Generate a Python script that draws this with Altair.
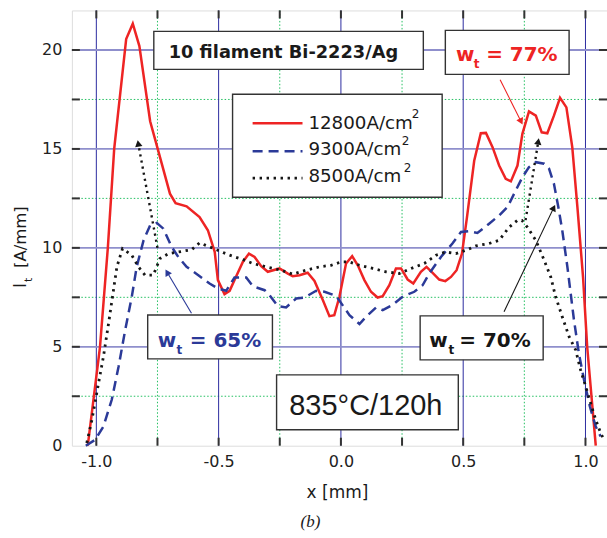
import math
import altair as alt
import pandas as pd

# ---------------- data ----------------
x_12800 = [-1.035, -0.985, -0.953, -0.927, -0.878, -0.851, -0.824, -0.78, -0.749, -0.699,
           -0.676, -0.631, -0.578, -0.544, -0.516, -0.503, -0.476, -0.455, -0.428, -0.401,
           -0.376, -0.353, -0.326, -0.299, -0.251, -0.217, -0.197, -0.169, -0.136, -0.108,
           -0.074, -0.047, -0.027, -0.006, 0.021, 0.046, 0.069, 0.096, 0.123, 0.150,
           0.171, 0.198, 0.225, 0.246, 0.273, 0.296, 0.327, 0.350, 0.375, 0.402,
           0.427, 0.450, 0.473, 0.495, 0.515, 0.545, 0.572, 0.593, 0.620, 0.647,
           0.674, 0.695, 0.722, 0.742, 0.769, 0.797, 0.821, 0.844, 0.871, 0.896,
           0.922, 0.946, 0.967, 0.990, 1.007, 1.042]
y_12800 = [0.0, 5.0, 10.0, 15.0, 20.55, 21.33, 20.2, 16.4, 15.0, 12.74,
           12.26, 12.1, 11.56, 10.89, 9.8, 8.37, 7.66, 7.83, 8.57, 9.29,
           9.71, 9.54, 9.07, 8.79, 8.96, 8.70, 8.57, 8.62, 8.74, 8.33,
           7.36, 6.55, 6.60, 7.53, 9.21, 9.58, 9.12, 8.37, 7.78, 7.49,
           7.56, 8.11, 8.96, 8.96, 8.40, 8.20, 8.79, 9.04, 8.74, 8.40,
           8.32, 8.53, 8.87, 9.71, 11.5, 14.4, 15.79, 15.81, 15.09, 14.16,
           13.49, 13.36, 14.16, 15.76, 16.9, 16.68, 15.84, 15.79, 16.68, 17.58,
           17.10, 15.09, 12.06, 8.53, 5.0, 0.0]

x_9300 = [-1.043, -1.005, -0.971, -0.937, -0.909, -0.882, -0.855, -0.835, -0.807, -0.780,
          -0.753, -0.726, -0.692, -0.665, -0.631, -0.583, -0.537, -0.503, -0.469, -0.435,
          -0.387, -0.36, -0.312, -0.292, -0.258, -0.224, -0.183, -0.149, -0.101, -0.067,
          -0.02, 0.035, 0.076, 0.103, 0.144, 0.171, 0.211, 0.252, 0.3, 0.334,
          0.361, 0.409, 0.456, 0.491, 0.524, 0.558, 0.606, 0.647, 0.681, 0.715,
          0.742, 0.769, 0.797, 0.831, 0.851, 0.871, 0.889, 0.905, 0.926, 0.953,
          0.973, 0.994, 1.018, 1.042, 1.062]
y_9300 = [0.0, 0.3, 0.97, 2.32, 4.0, 5.85, 7.53, 9.04, 10.38, 11.14,
          11.26, 10.97, 10.05, 9.54, 9.04, 8.62, 8.20, 7.95, 7.83, 8.50,
          8.5, 8.06, 7.86, 7.61, 7.06, 6.99, 7.44, 7.49, 7.83, 7.78,
          7.58, 6.6, 6.15, 6.52, 6.99, 6.85, 7.11, 7.53, 7.78, 8.11,
          8.70, 9.54, 10.22, 10.80, 10.84, 10.75, 11.22, 11.64, 12.06, 12.90,
          13.57, 14.08, 14.33, 14.25, 14.00, 13.24, 12.06, 10.89, 9.04, 6.35,
          4.67, 3.33, 1.98, 0.97, 0.47]

x_8500 = [-1.039, -1.018, -0.991, -0.971, -0.950, -0.930, -0.916, -0.893, -0.855, -0.828,
          -0.801, -0.767, -0.74, -0.705, -0.665, -0.610, -0.578, -0.537, -0.496, -0.455,
          -0.401, -0.36, -0.305, -0.244, -0.197, -0.142, -0.088, -0.04, 0.001, 0.035,
          0.076, 0.13, 0.184, 0.239, 0.287, 0.341, 0.389, 0.429, 0.470, 0.511,
          0.552, 0.606, 0.647, 0.688, 0.722, 0.740, 0.762, 0.797, 0.831, 0.858,
          0.878, 0.905, 0.933, 0.960, 0.980, 1.001, 1.021, 1.042, 1.062, 1.076]
y_8500 = [0.14, 1.31, 3.16, 4.5, 6.18, 7.86, 9.04, 9.96, 9.63, 9.04,
          8.62, 8.62, 9.46, 9.71, 9.79, 9.91, 10.25, 10.05, 9.84, 9.63,
          9.41, 9.21, 9.04, 8.87, 8.67, 8.87, 9.04, 9.12, 9.29, 9.29,
          9.12, 8.96, 8.79, 8.70, 8.96, 9.21, 9.63, 9.79, 9.71, 9.88,
          10.1, 10.22, 10.38, 11.05, 11.39, 11.39, 11.05, 10.38, 9.38, 8.53,
          7.53, 6.52, 5.51, 4.84, 3.83, 2.99, 2.15, 1.31, 0.64, 0.30]

series_labels = ["12800A/cm", "9300A/cm", "8500A/cm"]
x_tick_values = [-1.0, -0.5, 0.0, 0.5, 1.0]
y_tick_values = [0, 5, 10, 15, 20]
x_minor_values = [-0.75, -0.25, 0.25, 0.75]
y_minor_values = [2.5, 7.5, 12.5, 17.5]
x_all_ticks = [-1.0, -0.75, -0.5, -0.25, 0.0, 0.25, 0.5, 0.75, 1.0]
y_all_ticks = [2.5, 5, 7.5, 10, 12.5, 15, 17.5, 20]

title_text = "10 filament Bi-2223/Ag"
cond_text = "835°C/120h"
wt_values = ["= 77%", "= 65%", "= 70%"]

# ---------------- layout ----------------
XDOM = [-1.1, 1.088]
YDOM = [0, 22]
W, H = 536, 436
PX_X = W / (XDOM[1] - XDOM[0])
PX_Y = H / (YDOM[1] - YDOM[0])

FONT = "DejaVu Sans"
RED = "#ee2424"
BLUE = "#2b3a98"
BLACK = "#161616"

xs = alt.Scale(domain=XDOM, nice=False, zero=False)
ys = alt.Scale(domain=YDOM, nice=False, zero=False)
xaxis = alt.Axis(values=x_tick_values, title=None, ticks=False, domain=False, grid=False,
                 labelExpr="replace(format(datum.value, '.1f'), '\u2212', '-')",
                 labelFont=FONT, labelFontSize=16, labelColor="#222", labelPadding=8)
yaxis = alt.Axis(values=y_tick_values, title=None, ticks=False, domain=False, grid=False,
                 format="d", labelFont=FONT, labelFontSize=16, labelColor="#222",
                 labelPadding=10)


def X(f="x"):
    return alt.X(f"{f}:Q", scale=xs, axis=xaxis)


def Y(f="y"):
    return alt.Y(f"{f}:Q", scale=ys, axis=yaxis)


layers = []

# minor grid (green dotted)
layers.append(alt.Chart(pd.DataFrame({"x": x_minor_values})).mark_rule(
    color="#22c060", strokeWidth=1, strokeDash=[1.5, 2]).encode(x=X()))
layers.append(alt.Chart(pd.DataFrame({"y": y_minor_values})).mark_rule(
    color="#22c060", strokeWidth=1, strokeDash=[1.5, 2]).encode(y=Y()))
# major grid
layers.append(alt.Chart(pd.DataFrame({"x": x_tick_values})).mark_rule(
    color="#2c2ca0", strokeWidth=1).encode(x=X()))
layers.append(alt.Chart(pd.DataFrame({"y": y_tick_values[1:]})).mark_rule(
    color="#8f8fcc", strokeWidth=1.8).encode(y=Y()))

# ticks (inward) on all four sides
TK = 8
tick_style = dict(color="#333", strokeWidth=2)
dxt = pd.DataFrame({"x": x_all_ticks})
dyt = pd.DataFrame({"y": y_all_ticks})
layers.append(alt.Chart(dxt).mark_rule(**tick_style).encode(
    x=X(), y=alt.value(H), y2=alt.value(H - TK)))
layers.append(alt.Chart(dxt).mark_rule(**tick_style).encode(
    x=X(), y=alt.value(0), y2=alt.value(TK)))
layers.append(alt.Chart(dyt).mark_rule(**tick_style).encode(
    y=Y(), x=alt.value(0), x2=alt.value(TK)))
layers.append(alt.Chart(dyt).mark_rule(**tick_style).encode(
    y=Y(), x=alt.value(W), x2=alt.value(W - TK)))

# curves
styles = [
    dict(color=RED, strokeWidth=2.5),
    dict(color=BLUE, strokeWidth=2.5, strokeDash=[10, 6]),
    dict(color=BLACK, strokeWidth=2.8, strokeDash=[2.4, 4.6]),
]
series = [(x_12800, y_12800), (x_9300, y_9300), (x_8500, y_8500)]
for (xv, yv), st in zip(series, styles):
    df = pd.DataFrame({"x": xv, "y": yv, "i": range(len(xv))})
    layers.append(alt.Chart(df).mark_line(**st).encode(
        x=X(), y=Y(), order="i:Q"))

# arrows
arrows = [
    # x1, y1, x2, y2, color, dash, width
    (0.651, 18.5, 0.745, 16.18, RED, None, 1.1),
    (0.667, 6.77, 0.878, 12.23, BLACK, None, 1.1),
    (-0.611, 6.69, -0.72, 8.96, BLUE, None, 1.1),
    (-0.75, 10.0, -0.832, 15.5, BLACK, [2.2, 4], 2.4),
    (0.755, 11.4, 0.81, 15.6, BLACK, [2.2, 4], 2.4),
]
for (x1, y1, x2, y2, col, dash, sw) in arrows:
    kw = dict(color=col, strokeWidth=sw)
    if dash:
        kw["strokeDash"] = dash
    dxp = (x2 - x1) * PX_X
    dyp = -(y2 - y1) * PX_Y
    L = math.hypot(dxp, dyp)
    ang = math.degrees(math.atan2(dxp, -dyp)) % 360
    back = 4.5
    hx = x2 - (dxp / L) * back / PX_X
    hy = y2 + (dyp / L) * back / PX_Y
    ex = x2 - (dxp / L) * 6 / PX_X
    ey = y2 + (dyp / L) * 6 / PX_Y
    layers.append(alt.Chart(pd.DataFrame({"x": [x1], "y": [y1], "x2": [ex], "y2": [ey]}))
                  .mark_rule(**kw).encode(x=X(), y=Y(), x2="x2:Q", y2="y2:Q"))
    layers.append(alt.Chart(pd.DataFrame({"x": [hx], "y": [hy]}))
                  .mark_point(shape="triangle-up", filled=True, color=col, opacity=1,
                              size=55, angle=ang).encode(x=X(), y=Y()))

# boxes: x1, x2, y1, y2
boxes = [
    (-0.765, 0.337, 19.02, 20.94),
    (0.427, 0.933, 18.77, 20.99),
    (-0.443, 0.414, 12.56, 17.76),
    (-0.790, -0.280, 4.39, 6.61),
    (0.324, 0.827, 4.34, 6.56),
    (-0.263, 0.480, 0.81, 3.58),
]
bdf = pd.DataFrame(boxes, columns=["x", "x2", "y", "y2"])
layers.append(alt.Chart(bdf).mark_rect(fill="white", stroke="#333", strokeWidth=1.4).encode(
    x=X(), x2="x2:Q", y=Y(), y2="y2:Q"))


def txt(x, y, s, size, color="#1a1a1a", weight="normal", align="left", font=FONT):
    return alt.Chart(pd.DataFrame({"x": [x], "y": [y], "t": [s]})).mark_text(
        align=align, baseline="alphabetic", font=font, fontSize=size,
        fontWeight=weight, color=color).encode(x=X(), y=Y(), text="t:N")


layers.append(txt(-0.235, 19.61, title_text, 17.8, weight="bold", align="center"))

# w_t labels
wt_pos = [
    # w_x, t_x, eq_x, baseline, t_baseline, color
    (0.471, 0.543, 0.594, 19.44, 19.07, RED),
    (-0.749, -0.672, -0.618, 4.99, 4.64, BLUE),
    (0.361, 0.440, 0.484, 4.99, 4.64, BLACK),
]
for (wx, tx, ex_, bl, tbl, col), val in zip(wt_pos, wt_values):
    layers.append(txt(wx, bl, "w", 20, color=col, weight="bold"))
    layers.append(txt(tx, tbl, "t", 12, color=col, weight="bold"))
    layers.append(txt(ex_, bl, val, 20, color=col, weight="bold"))

# legend samples
leg_y = [16.30, 14.88, 13.52]
leg_base = [16.03, 14.68, 13.33]
sup_x = [0.290, 0.249, 0.257]
sup_base = [16.55, 15.19, 13.82]
for i, st in enumerate(styles):
    layers.append(alt.Chart(pd.DataFrame({"x": [-0.361], "x2": [-0.157], "y": [leg_y[i]]}))
                  .mark_rule(**st).encode(x=X(), x2="x2:Q", y=Y()))
    layers.append(txt(-0.133, leg_base[i], series_labels[i], 18.3))
    layers.append(txt(sup_x[i], sup_base[i], "2", 12))

layers.append(txt(0.102, 1.56, cond_text, 29, align="center", font="Liberation Sans"))

# axis titles and caption (outside the plot area, pixel positions)
def ptxt(px, py, s, size, angle=0, align="center", baseline="middle", font=FONT,
         style="normal"):
    return alt.Chart(pd.DataFrame({"t": [s]})).mark_text(
        align=align, baseline=baseline, font=font, fontSize=size, angle=angle,
        fontStyle=style, color="#1a1a1a").encode(
        x=alt.value(px), y=alt.value(py), text="t:N")


layers.append(ptxt(266, 483, "x [mm]", 17))
layers.append(ptxt(-46, 278, "I", 17, angle=270, align="left", baseline="alphabetic"))
layers.append(ptxt(-40, 272, "t", 11, angle=270, align="left", baseline="alphabetic"))
layers.append(ptxt(-46, 258, "[A/mm]", 16.5, angle=270, align="left", baseline="alphabetic"))
layers.append(ptxt(239, 512, "(b)", 17, font="Liberation Serif", style="italic"))

chart = alt.layer(*layers).properties(
    width=W, height=H,
    padding={"left": 72, "top": 10, "right": 0, "bottom": 92},
    autosize=alt.AutoSizeParams(type="none"),
).configure_view(stroke="#333", strokeWidth=2).configure(background="white")

chart.save("out.html", embed_options={"renderer": "svg", "actions": False})
